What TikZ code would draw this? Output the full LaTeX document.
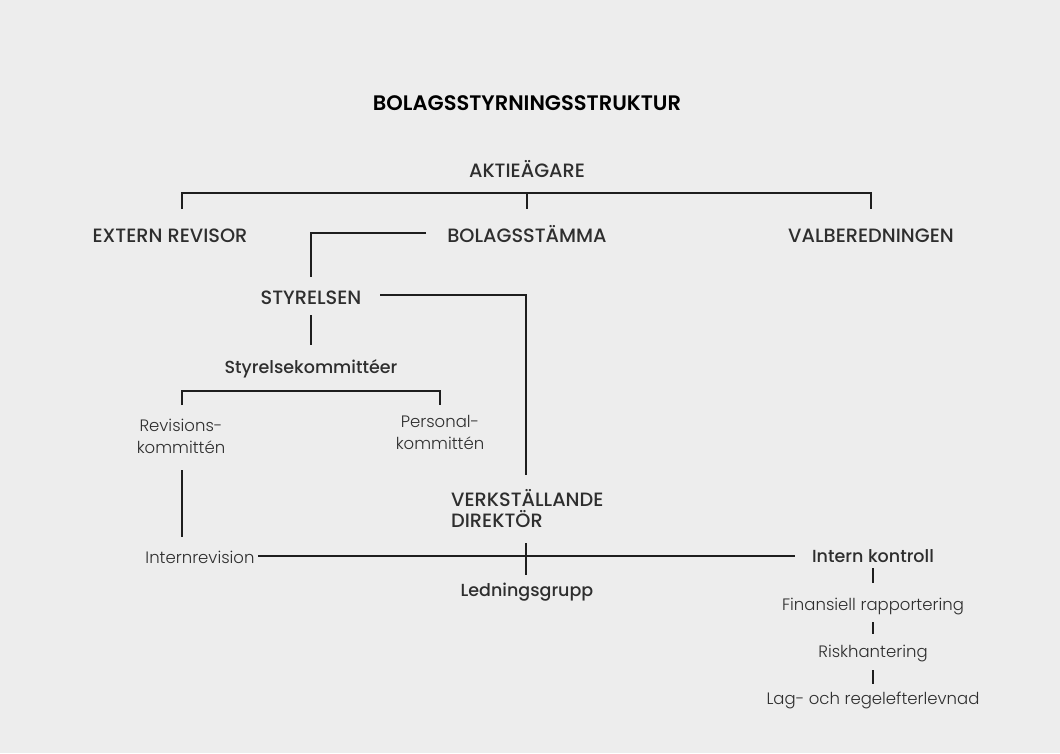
\documentclass[tikz,border=0pt]{standalone}
\usepackage{fontspec}
\setmainfont{Poppins}
\newfontfamily\lightf{Poppins Light}
\newfontfamily\medf{Poppins Medium}
\newfontfamily\semif{Poppins SemiBold}
\definecolor{bgc}{HTML}{EDEDED}
\definecolor{txt}{HTML}{2E2E2E}
\definecolor{ln}{HTML}{1E1E1E}
\tikzset{
  captxt/.style={inner sep=2pt, text=txt, font=\medf\fontsize{19.3}{21}\selectfont},
  ttltxt/.style={inner sep=2pt, text=black, font=\semif\fontsize{21}{22}\selectfont},
  semitxt/.style={inner sep=2pt, text=txt, font=\medf\fontsize{17.5}{21}\selectfont},
  litetxt/.style={inner sep=2pt, text=txt, font=\lightf\fontsize{16.5}{22}\selectfont},
  conn/.style={draw=ln, line width=1.2pt}
}
\begin{document}
\begin{tikzpicture}[x=1pt,y=-1pt]
\fill[bgc] (0,0) rectangle (1060,753);
\useasboundingbox (0,0) rectangle (1060,753);
% nodes
\node[ttltxt, anchor=base] (title) at (527,110) {BOLAGSSTYRNINGSSTRUKTUR};
\node[captxt, anchor=base] (akt) at (527,177) {AKTIEÄGARE};
\node[captxt, anchor=base] (ext) at (170,242) {EXTERN REVISOR};
\node[captxt, anchor=base] (bol) at (527,242) {BOLAGSSTÄMMA};
\node[captxt, anchor=base] (val) at (871,242) {VALBEREDNINGEN};
\node[captxt, anchor=base] (sty) at (311,304) {STYRELSEN};
\node[semitxt, anchor=base] (kom) at (311,373) {Styrelsekommittéer};
\node[litetxt, align=center] (rev) at (181,436) {Revisions-\\kommittén};
\node[litetxt, align=center] (pers) at (440,432) {Personal-\\kommittén};
\node[captxt, align=left, anchor=west] (vd) at (449,509) {VERKSTÄLLANDE\\DIREKTÖR};
\node[litetxt, anchor=base] (intrev) at (200,563) {Internrevision};
\node[semitxt, anchor=base] (ik) at (873,562) {Intern kontroll};
\node[semitxt, anchor=base] (led) at (527,596) {Ledningsgrupp};
\node[litetxt, anchor=base] (fin) at (873,610) {Finansiell rapportering};
\node[litetxt, anchor=base] (risk) at (873,657) {Riskhantering};
\node[litetxt, anchor=base] (lag) at (873,704) {Lag- och regelefterlevnad};
% connector coordinates
\coordinate (bar) at (527,193);
\coordinate (te) at (182,209);
\coordinate (tb) at (527,209);
\coordinate (tv) at (871,209);
\coordinate (b1) at (426,233);
\coordinate (s1) at (311,277);
\coordinate (s2) at (380,295);
\coordinate (v1) at (526,475);
\coordinate (s3) at (311,315);
\coordinate (k0) at (311,345);
\coordinate (k1) at (182,405);
\coordinate (kb) at (440,391);
\coordinate (k2) at (440,405);
\coordinate (r1) at (182,470);
\coordinate (r2) at (182,537);
\coordinate (h1) at (258,556);
\coordinate (h2) at (795,556);
\coordinate (c1) at (526,543);
\coordinate (c2) at (526,575);
\coordinate (i1) at (873,568);
\coordinate (i2) at (873,583);
\coordinate (f1) at (873,622);
\coordinate (f2) at (873,634);
\coordinate (q1) at (873,670);
\coordinate (q2) at (873,684);
% connectors
\draw[conn] (te) |- (bar) -| (tv);
\draw[conn] (bar) -- (tb);
\draw[conn] (b1) -| (s1);
\draw[conn] (s2) -| (v1);
\draw[conn] (s3) -- (k0);
\draw[conn] (k1) |- (kb) -- (k2);
\draw[conn] (r1) -- (r2);
\draw[conn] (h1) -- (h2);
\draw[conn] (c1) -- (c2);
\draw[conn] (i1) -- (i2);
\draw[conn] (f1) -- (f2);
\draw[conn] (q1) -- (q2);
\end{tikzpicture}
\end{document}
